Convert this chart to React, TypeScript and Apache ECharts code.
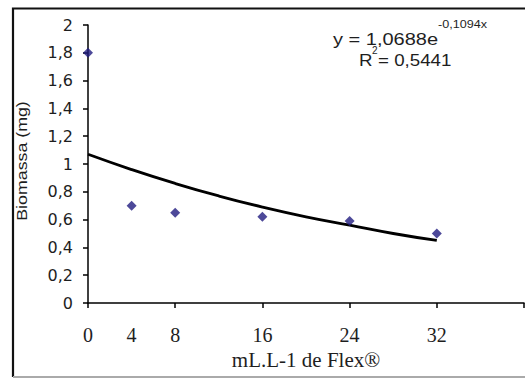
import React, { useEffect, useRef } from "react";
import * as echarts from "echarts";

const doses = [0, 4, 8, 16, 24, 32];
const biomassa = [1.8, 0.7, 0.65, 0.62, 0.59, 0.5];
const trendX = [0, 4, 8, 12, 16, 20, 24, 28, 32];
const trendY = [1.07, 0.96, 0.86, 0.77, 0.69, 0.62, 0.56, 0.5, 0.45];
const xLabelValues = [0, 4, 8, 16, 24, 32];
const xTickValues = [0, 8, 16, 24, 32, 40];
const yTitle = "Biomassa (mg)";
const xTitle = "mL.L-1 de Flex®";
const eqMain = "y = 1,0688e";
const eqExp = "-0,1094x";
const r2Value = "= 0,5441";

export default function App() {
  const ref = useRef<HTMLDivElement>(null);
  useEffect(() => {
    if (!ref.current) return;
    const chart = echarts.init(ref.current, null, { renderer: "svg" });
    const sans = "Liberation Sans, Arial, sans-serif";
    const wide = "DejaVu Sans, Verdana, sans-serif";
    const serif = "Liberation Serif, Times New Roman, serif";
    const ink = "#1e1e1e";
    chart.setOption({
      animation: false,
      backgroundColor: "#ffffff",
      grid: { left: 88, top: 25, right: 1, bottom: 75 },
      xAxis: {
        type: "value",
        min: 0,
        max: 40,
        interval: 4,
        splitLine: { show: false },
        axisLine: { lineStyle: { color: "#000", width: 1.5 } },
        axisTick: {
          show: true,
          length: 5,
          customValues: xTickValues,
          lineStyle: { color: "#000", width: 1.5 },
        },
        axisLabel: {
          customValues: xLabelValues,
          color: ink,
          fontFamily: serif,
          fontSize: 20,
          margin: 22,
        },
        name: xTitle,
        nameLocation: "middle",
        nameGap: 46,
        nameTextStyle: { color: ink, fontFamily: serif, fontSize: 21 },
      },
      yAxis: {
        type: "value",
        min: 0,
        max: 2,
        interval: 0.2,
        splitLine: { show: false },
        axisLine: { show: true, lineStyle: { color: "#000", width: 1.5 } },
        axisTick: { show: true, length: 5, lineStyle: { color: "#000", width: 1.5 } },
        axisLabel: {
          color: ink,
          fontFamily: wide,
          fontSize: 16,
          margin: 15,
          formatter: (v: number) => String(Math.round(v * 10) / 10).replace(".", ","),
        },
      },
      series: [
        {
          type: "line",
          data: trendX.map((x, i) => [x, trendY[i]]),
          showSymbol: false,
          smooth: true,
          lineStyle: { color: "#000", width: 2.8 },
          z: 2,
        },
        {
          type: "scatter",
          data: doses.map((x, i) => [x, biomassa[i]]),
          symbol: "diamond",
          symbolSize: 10,
          itemStyle: { color: "#201c80" },
          z: 3,
        },
      ],
      graphic: [
        {
          type: "polyline",
          shape: { points: [[13, 377], [13, 8.5], [525, 8.5]] },
          style: { fill: "none", stroke: "#111", lineWidth: 2.2 },
          silent: true,
        },
        {
          type: "line",
          shape: { x1: 13, y1: 377, x2: 525, y2: 377 },
          style: { stroke: "#aaaaaa", lineWidth: 2 },
          silent: true,
        },
        {
          type: "text",
          x: 22,
          y: 161,
          rotation: Math.PI / 2,
          scaleX: 1.27,
          style: {
            text: yTitle,
            fontFamily: sans,
            fontSize: 14,
            fill: ink,
            align: "center",
            verticalAlign: "middle",
          },
        },
        {
          type: "text",
          x: 333,
          y: 40,
          scaleX: 1.25,
          style: {
            text: eqMain,
            fontFamily: sans,
            fontSize: 16,
            fill: ink,
            align: "left",
            verticalAlign: "middle",
          },
        },
        {
          type: "text",
          x: 438,
          y: 24,
          scaleX: 1.26,
          style: {
            text: eqExp,
            fontFamily: sans,
            fontSize: 10,
            fill: ink,
            align: "left",
            verticalAlign: "middle",
          },
        },
        {
          type: "text",
          x: 359,
          y: 60,
          scaleX: 1.17,
          style: {
            text: "R",
            fontFamily: sans,
            fontSize: 16,
            fill: ink,
            align: "left",
            verticalAlign: "middle",
          },
        },
        {
          type: "text",
          x: 372,
          y: 50,
          style: {
            text: "2",
            fontFamily: sans,
            fontSize: 10,
            fill: ink,
            align: "left",
            verticalAlign: "middle",
          },
        },
        {
          type: "text",
          x: 378,
          y: 60,
          scaleX: 1.17,
          style: {
            text: r2Value,
            fontFamily: sans,
            fontSize: 16,
            fill: ink,
            align: "left",
            verticalAlign: "middle",
          },
        },
      ],
    });
    return () => chart.dispose();
  }, []);
  return <div ref={ref} style={{ width: 525, height: 378, position: "absolute", left: 0, top: 0 }} />;
}
